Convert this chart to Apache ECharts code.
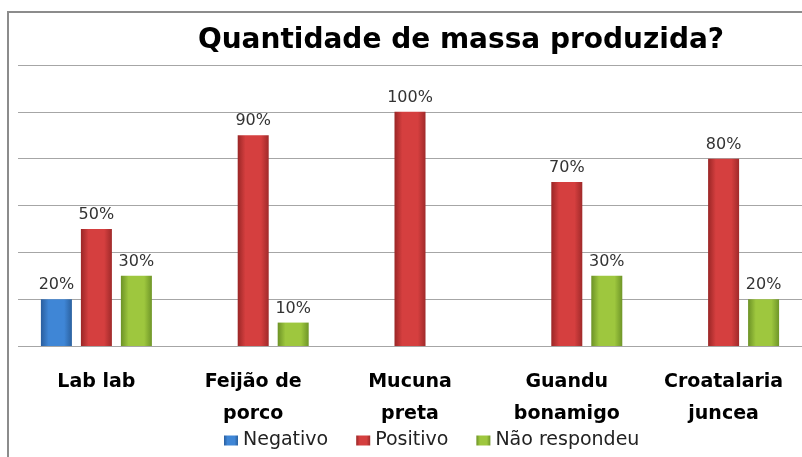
<!DOCTYPE html>
<html>
<head>
<meta charset="utf-8">
<script src="https://cdn.jsdelivr.net/npm/echarts@6/dist/echarts.min.js"></script>
<style>
  html, body { margin: 0; padding: 0; background: #fff; }
  #chart { width: 802px; height: 457px; }
</style>
</head>
<body>
<div id="chart"></div>
<script>
// categorias e valores (%)
let categorias = ['Lab lab', 'Feijão de\nporco', 'Mucuna\npreta', 'Guandu\nbonamigo', 'Croatalaria\njuncea']
let negativo = [20, null, null, null, null]
let positivo = [50, 90, 100, 70, 80]
let naoRespondeu = [30, 10, null, 30, 20]
let yTicks = [0, 20, 40, 60, 80, 100, 120]

function barra(c1, c2, c3){
  return new echarts.graphic.LinearGradient(0, 0, 1, 0, [
    { offset: 0, color: c1 },
    { offset: 0.25, color: c2 },
    { offset: 0.75, color: c2 },
    { offset: 1, color: c3 }
  ])
}

function serie(nome, dados, cor){
  return {
    name: nome,
    type: 'bar',
    data: dados,
    barWidth: 31,
    barGap: '29%',
    itemStyle: { color: cor },
    label: {
      show: true,
      position: 'top',
      distance: 6,
      formatter: '{c}%',
      fontFamily: 'DejaVu Sans',
      fontSize: 16,
      color: '#333'
    }
  }
}

let myChart = echarts.init(document.getElementById('chart'))
myChart.setOption({
  animation: false,
  graphic: [{
    type: 'rect',
    shape: { x: 8, y: 12, width: 900, height: 500 },
    style: { fill: 'none', stroke: '#8c8c8c', lineWidth: 2 },
    z: -1
  }],
  title: {
    text: 'Quantidade de massa produzida?',
    left: 456,
    textAlign: 'center',
    top: 22,
    textStyle: { fontFamily: 'DejaVu Sans', fontWeight: 'bold', fontSize: 28, color: '#000' }
  },
  legend: {
    left: 219,
    top: 426,
    itemWidth: 14,
    itemHeight: 10,
    itemGap: 28,
    icon: 'rect',
    textStyle: { fontFamily: 'DejaVu Sans', fontSize: 19, color: '#222' },
    data: ['Negativo', 'Positivo', 'Não respondeu']
  },
  grid: { left: 18, top: 65, width: 786, bottom: 111, containLabel: false },
  xAxis: {
    type: 'category',
    data: categorias,
    axisLine: { show: false },
    axisTick: { show: false },
    axisLabel: {
      margin: 20,
      interval: 0,
      fontFamily: 'DejaVu Sans',
      fontWeight: 'bold',
      fontSize: 19,
      lineHeight: 32,
      color: '#000'
    }
  },
  yAxis: {
    type: 'value',
    min: yTicks[0],
    max: yTicks[yTicks.length - 1],
    interval: 20,
    axisLabel: { show: false },
    axisLine: { show: false },
    axisTick: { show: false },
    splitLine: { lineStyle: { color: '#a6a6a6', width: 1 } }
  },
  series: [
    serie('Negativo', negativo, barra('#2a5e9e', '#3f86d6', '#2b619f')),
    serie('Positivo', positivo, barra('#9a2626', '#d53f3f', '#a02a2a')),
    serie('Não respondeu', naoRespondeu, barra('#6c9226', '#9ec73e', '#6f9628'))
  ]
})
</script>
</body>
</html>
